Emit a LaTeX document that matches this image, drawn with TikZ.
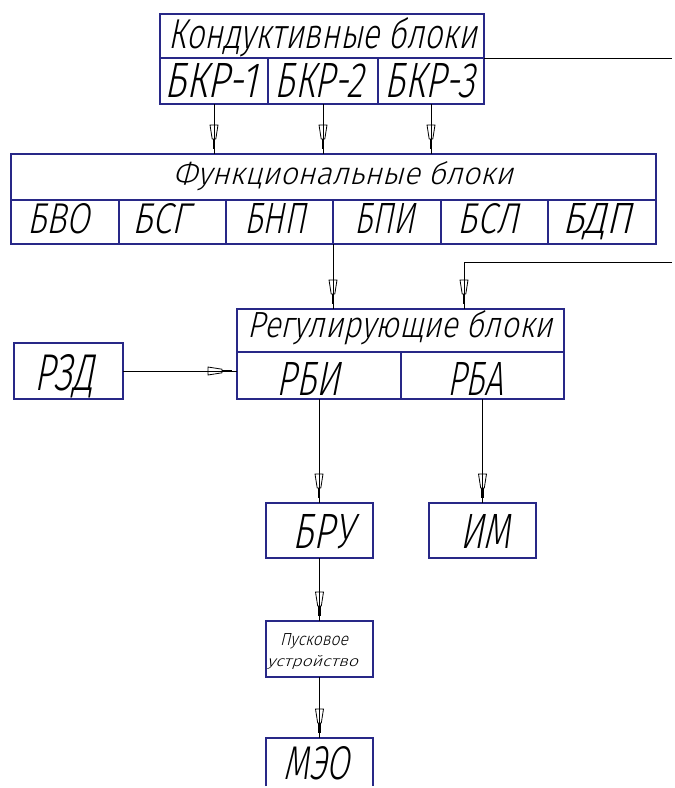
\documentclass[tikz,border=0pt]{standalone}
\usepackage{fontspec}
\usepackage{graphicx}
\usetikzlibrary{decorations.markings}
\newfontfamily\gost[FakeSlant=0.27]{Fira Sans Light}
\newcommand\gt[3]{\resizebox{#1pt}{#2pt}{\gost #3}}
\definecolor{boxblue}{RGB}{40,40,135}
\tikzset{
  cell/.style={draw=boxblue, line width=1.3pt, inner sep=0pt, outer sep=0pt},
  opencell/.style={inner sep=0pt, outer sep=0pt},
  side/.style={draw=boxblue, line width=1.3pt},
  lbl/.style={anchor=base, inner sep=0pt, outer sep=0pt},
  conn/.style={draw=black, line width=1pt},
  arr/.style={conn, postaction={decorate}, decoration={markings,
    mark=at position -1pt with {
      \draw[line width=0.8pt, fill=white] (-28pt,4pt)--(-14pt,1.8pt)--(-14pt,-1.8pt)--(-28pt,-4pt)--cycle;
      \draw[line width=0.8pt] (-28pt,0pt)--(-14pt,0pt);
      \draw[line width=2.2pt] (-14pt,0pt)--(-4pt,0pt);}}}
}
\begin{document}
\begin{tikzpicture}[x=1pt, y=-1pt]
\useasboundingbox (0,0) rectangle (675,788);
\fill[white] (0,0) rectangle (675,788);
\clip (0,0) rectangle (675,788);

% Conductive blocks
\node[cell, minimum width=324pt, minimum height=44pt] (kt) at (322,36) {};
\node[cell, minimum width=108pt, minimum height=46pt] (bkr1) at (214,81) {};
\node[cell, minimum width=110pt, minimum height=46pt] (bkr2) at (323,81) {};
\node[cell, minimum width=106pt, minimum height=46pt] (bkr3) at (431,81) {};
\node[lbl] (tkt) at (323,48) {\gt{308}{31}{Кондуктивные блоки}};
\node[lbl] (tb1) at (211,97) {\gt{92}{34}{БКР-1}};
\node[lbl] (tb2) at (319,97) {\gt{88}{34}{БКР-2}};
\node[lbl] (tb3) at (430,97) {\gt{90}{34}{БКР-3}};

% Functional blocks
\node[cell, minimum width=645pt, minimum height=46pt] (ft) at (333.5,177) {};
\node[cell, minimum width=108pt, minimum height=44pt] (f1) at (65,222) {};
\node[cell, minimum width=107pt, minimum height=44pt] (f2) at (172.5,222) {};
\node[cell, minimum width=107pt, minimum height=44pt] (f3) at (279.5,222) {};
\node[cell, minimum width=108pt, minimum height=44pt] (f4) at (387,222) {};
\node[cell, minimum width=107pt, minimum height=44pt] (f5) at (494.5,222) {};
\node[cell, minimum width=108pt, minimum height=44pt] (f6) at (602,222) {};
\node[lbl] (tft) at (343,184) {\gt{340}{23}{Функциональные блоки}};
\node[lbl] (tf1) at (59,233) {\gt{62}{30}{БВО}};
\node[lbl] (tf2) at (161,233) {\gt{57}{30}{БСГ}};
\node[lbl] (tf3) at (275,233) {\gt{61}{30}{БНП}};
\node[lbl] (tf4) at (385,233) {\gt{60}{30}{БПИ}};
\node[lbl] (tf5) at (488,233) {\gt{60}{30}{БСЛ}};
\node[lbl] (tf6) at (597,233) {\gt{69}{30}{БДП}};

% Regulating blocks
\node[cell, minimum width=327pt, minimum height=43pt] (rt) at (400.5,330.5) {};
\node[cell, minimum width=164pt, minimum height=47pt] (rbi) at (319,375.5) {};
\node[cell, minimum width=163pt, minimum height=47pt] (rba) at (482.5,375.5) {};
\node[lbl] (trt) at (400,337) {\gt{305}{27}{Регулирующие блоки}};
\node[lbl] (trbi) at (308,395) {\gt{63}{33}{РБИ}};
\node[lbl] (trba) at (475,395) {\gt{56}{33}{РБА}};

% Other blocks
\node[cell, minimum width=109pt, minimum height=56pt] (rzd) at (68.5,371) {};
\node[lbl] (trzd) at (64.5,390) {\gt{59}{36}{РЗД}};
\node[cell, minimum width=107pt, minimum height=55pt] (bru) at (319.5,530.5) {};
\node[lbl] (tbru) at (323,548) {\gt{60}{34}{БРУ}};
\node[cell, minimum width=107pt, minimum height=55pt] (im) at (482.5,530.5) {};
\node[lbl] (tim) at (485,548) {\gt{50}{34}{ИМ}};
\node[cell, minimum width=107pt, minimum height=56pt] (pusk) at (319.5,649) {};
\node[lbl] (tp1) at (314,645) {\gt{68}{12}{Пусковое}};
\node[lbl] (tp2) at (312.5,666) {\gt{91}{11}{устройство}};
% MEO box runs off the bottom edge: three sides only
\node[opencell, minimum width=107pt, minimum height=48pt] (meo) at (319.5,762) {};
\draw[side] (meo.south west) -- (meo.north west) -- (meo.north east) -- (meo.south east);
\node[lbl] (tmeo) at (316.5,779) {\gt{66}{33}{МЭО}};

% Free ends and bends
\coordinate (kend) at (672,58);
\coordinate (rend) at (672,262);
\coordinate (rin) at (464,309);

% Connectors
\draw[conn] (kt.south east) -- (kend);
\draw[arr] (bkr1.south) -- (bkr1.south |- ft.north);
\draw[arr] (bkr2.south) -- (bkr2.south |- ft.north);
\draw[arr] (bkr3.south) -- (bkr3.south |- ft.north);
\draw[arr] (f4.south west) -- (f4.south west |- rt.north);
\draw[arr] (rend) -| (rin);
\draw[arr] (rzd.east) -- (rzd.east -| rbi.west);
\draw[arr] (rbi.south) -- (rbi.south |- bru.north);
\draw[arr] (rba.south) -- (im.north);
\draw[arr] (bru.south) -- (pusk.north);
\draw[arr] (pusk.south) -- (meo.north);
\end{tikzpicture}
\end{document}
